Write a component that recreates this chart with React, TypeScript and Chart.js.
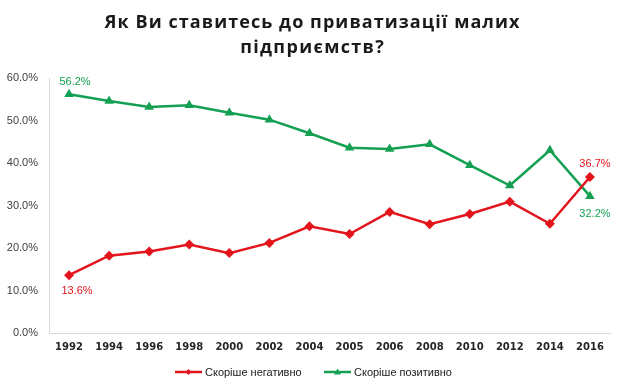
import React, { useEffect, useRef } from "react";
import { Chart, registerables } from "chart.js";

Chart.register(...registerables);

const titleLines = ["Як Ви ставитесь до приватизації малих", "підприємств?"];
const years = ["1992", "1994", "1996", "1998", "2000", "2002", "2004", "2005", "2006", "2008", "2010", "2012", "2014", "2016"];
const seriesNames = ["Скоріше негативно", "Скоріше позитивно"];
const negative = [13.6, 18.2, 19.2, 20.8, 18.8, 21.2, 25.1, 23.3, 28.5, 25.6, 28.0, 30.9, 25.7, 36.7];
const positive = [56.2, 54.6, 53.2, 53.6, 51.8, 50.2, 47.0, 43.6, 43.3, 44.4, 39.5, 34.7, 43.0, 32.2];
const yTicks = [0, 10, 20, 30, 40, 50, 60];

const RED = "#E3141C";
const GREEN = "#13A052";

export default function App() {
  const ref = useRef<HTMLCanvasElement | null>(null);

  useEffect(() => {
    document.body.style.margin = "0";
    const canvas = ref.current;
    if (!canvas) return;

    // data label offsets: [datasetIndex, pointIndex, dx, dy]
    const dataLabels: [number, number, number, number][] = [
      [0, 0, 8, 16],
      [0, negative.length - 1, 5, -13],
      [1, 0, 6, -12],
      [1, positive.length - 1, 5, 18],
    ];

    const overlay = {
      id: "overlay",
      afterDatasetsDraw(chart: any) {
        const ctx = chart.ctx;
        ctx.save();
        ctx.font = "11px 'Liberation Sans', Arial, sans-serif";
        ctx.textAlign = "center";
        ctx.textBaseline = "middle";
        for (const [di, pi, dx, dy] of dataLabels) {
          const el = chart.getDatasetMeta(di).data[pi];
          const v = chart.data.datasets[di].data[pi] as number;
          ctx.fillStyle = di === 0 ? RED : GREEN;
          ctx.fillText(v.toFixed(1) + "%", el.x + dx, el.y + dy);
        }
        ctx.restore();
      },
      afterDraw(chart: any) {
        const ctx = chart.ctx;
        ctx.save();
        // title
        ctx.fillStyle = "#1a1a1a";
        ctx.font = "bold 18px 'Open Sans', 'DejaVu Sans', sans-serif";
        ctx.textBaseline = "middle";
        ctx.textAlign = "left";
        const targets = [416, 145];
        const ys = [23, 48];
        titleLines.forEach((line, i) => {
          (ctx as any).letterSpacing = "0px";
          const w = ctx.measureText(line).width;
          const sp = Math.max(0, (targets[i] - w) / line.length);
          (ctx as any).letterSpacing = sp.toFixed(2) + "px";
          const w2 = ctx.measureText(line).width;
          ctx.fillText(line, 312 - w2 / 2 + sp / 2, ys[i]);
        });
        (ctx as any).letterSpacing = "0px";

        // legend
        const ly = 372;
        const items = [
          { x: 175, color: RED, style: "diamond", name: seriesNames[0] },
          { x: 324, color: GREEN, style: "triangle", name: seriesNames[1] },
        ];
        ctx.font = "11px 'Liberation Sans', Arial, sans-serif";
        ctx.textAlign = "left";
        for (const it of items) {
          ctx.strokeStyle = it.color;
          ctx.lineWidth = 2.5;
          ctx.beginPath();
          ctx.moveTo(it.x, ly);
          ctx.lineTo(it.x + 27, ly);
          ctx.stroke();
          ctx.fillStyle = it.color;
          const cx = it.x + 13.5;
          ctx.beginPath();
          if (it.style === "diamond") {
            ctx.moveTo(cx, ly - 3);
            ctx.lineTo(cx + 3, ly);
            ctx.lineTo(cx, ly + 3);
            ctx.lineTo(cx - 3, ly);
          } else {
            ctx.moveTo(cx, ly - 3.5);
            ctx.lineTo(cx + 3.5, ly + 2.5);
            ctx.lineTo(cx - 3.5, ly + 2.5);
          }
          ctx.closePath();
          ctx.fill();
          ctx.fillStyle = "#1a1a1a";
          ctx.fillText(it.name, it.x + 30, ly + 0.5);
        }
        ctx.restore();
      },
    };

    const chart = new Chart(canvas, {
      type: "line",
      data: {
        labels: years,
        datasets: [
          {
            label: seriesNames[0],
            data: negative,
            borderColor: RED,
            backgroundColor: RED,
            borderWidth: 2.5,
            pointStyle: "rectRot",
            pointRadius: 5,
            pointBorderWidth: 0,
            tension: 0,
          },
          {
            label: seriesNames[1],
            data: positive,
            borderColor: GREEN,
            backgroundColor: GREEN,
            borderWidth: 2.5,
            pointStyle: "triangle",
            pointRadius: 5.5,
            pointBorderWidth: 0,
            tension: 0,
          },
        ],
      },
      options: {
        responsive: false,
        animation: false,
        layout: { padding: { top: 78, right: 15, bottom: 29, left: 0 } },
        plugins: {
          legend: { display: false },
          title: { display: false },
          tooltip: { enabled: false },
        },
        scales: {
          x: {
            offset: true,
            grid: { display: false, drawTicks: false },
            border: { display: true, color: "#d9d9d9", width: 1 },
            ticks: {
              padding: 8,
              color: "#262626",
              font: { family: "'DejaVu Sans', sans-serif", size: 10, weight: "bold" },
              maxRotation: 0,
              autoSkip: false,
            },
            afterFit: (s: any) => {
              s.height = 30;
            },
          },
          y: {
            min: 0,
            max: 60,
            afterBuildTicks: (s: any) => {
              s.ticks = yTicks.map((v) => ({ value: v }));
            },
            grid: { display: false, drawTicks: false },
            border: { display: true, color: "#d9d9d9", width: 1 },
            ticks: {
              padding: 11,
              color: "#404040",
              font: { family: "'Liberation Sans', Arial, sans-serif", size: 11 },
              callback: (v: any) => Number(v).toFixed(1) + "%",
            },
            afterFit: (s: any) => {
              s.width = 49;
            },
          },
        },
      },
      plugins: [overlay],
    });

    return () => chart.destroy();
  }, []);

  return (
    <div style={{ width: 625, height: 392, background: "#fff" }}>
      <canvas ref={ref} width={625} height={392} />
    </div>
  );
}
